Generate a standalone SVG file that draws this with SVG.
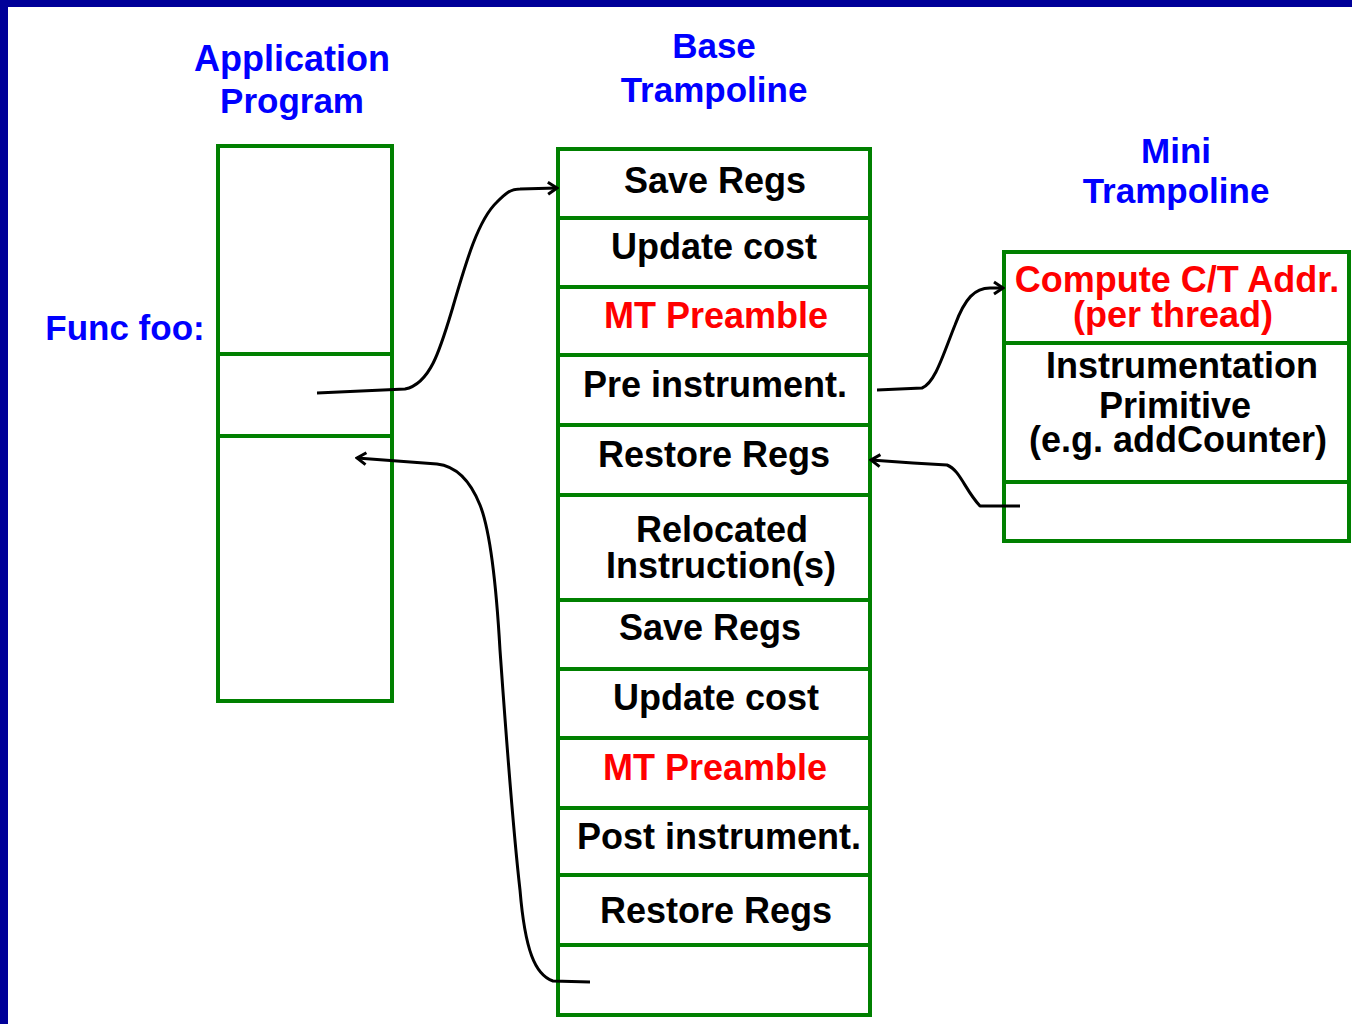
<svg xmlns="http://www.w3.org/2000/svg" width="1352" height="1024" viewBox="0 0 1352 1024">
<defs>
<style>
.box{fill:#fff;stroke:#008000;stroke-width:4}
.div{stroke:#008000;stroke-width:4}
.t{font-family:"Liberation Sans",Arial,sans-serif;font-weight:bold;font-size:36px;text-anchor:middle}
.ttl{font-size:35px}
.blk{fill:#000}
.red{fill:#ff0000}
.blu{fill:#0000ff}
.con{fill:none;stroke:#000;stroke-width:3;stroke-linejoin:round}
</style>
<marker id="ah" markerWidth="16" markerHeight="16" refX="14" refY="8" orient="auto" markerUnits="userSpaceOnUse">
<path d="M5,2 L14,8 L5,14" fill="none" stroke="#000" stroke-width="3"/>
</marker>
</defs>
<rect x="0" y="0" width="1352" height="1024" fill="#fff"/>
<rect x="0" y="0" width="1352" height="7" fill="#000099"/>
<rect x="0" y="0" width="8" height="1024" fill="#000099"/>

<g id="titles">
<text class="t blu" x="292" y="71">Application</text>
<text class="t blu ttl" x="292" y="113">Program</text>
<text class="t blu ttl" x="714" y="58">Base</text>
<text class="t blu ttl" x="714" y="102">Trampoline</text>
<text class="t blu ttl" x="1176" y="163">Mini</text>
<text class="t blu ttl" x="1176" y="203">Trampoline</text>
<text class="t blu ttl" x="125" y="340">Func foo:</text>
</g>

<g id="app-program">
<rect class="box" x="218" y="146" width="174" height="555"/>
<line class="div" x1="218" y1="354" x2="392" y2="354"/>
<line class="div" x1="218" y1="436" x2="392" y2="436"/>
</g>

<g id="base-trampoline">
<rect class="box" x="558" y="149" width="312" height="866"/>
<line class="div" x1="558" y1="218" x2="870" y2="218"/>
<line class="div" x1="558" y1="287" x2="870" y2="287"/>
<line class="div" x1="558" y1="355" x2="870" y2="355"/>
<line class="div" x1="558" y1="425" x2="870" y2="425"/>
<line class="div" x1="558" y1="495" x2="870" y2="495"/>
<line class="div" x1="558" y1="600" x2="870" y2="600"/>
<line class="div" x1="558" y1="669" x2="870" y2="669"/>
<line class="div" x1="558" y1="738" x2="870" y2="738"/>
<line class="div" x1="558" y1="808" x2="870" y2="808"/>
<line class="div" x1="558" y1="875" x2="870" y2="875"/>
<line class="div" x1="558" y1="945" x2="870" y2="945"/>
<text class="t blk" x="715" y="193">Save Regs</text>
<text class="t blk" x="714" y="259">Update cost</text>
<text class="t red" x="716" y="328">MT Preamble</text>
<text class="t blk" x="715" y="397">Pre instrument.</text>
<text class="t blk" x="714" y="467">Restore Regs</text>
<text class="t blk" x="722" y="542">Relocated</text>
<text class="t blk" x="721" y="578">Instruction(s)</text>
<text class="t blk" x="710" y="640">Save Regs</text>
<text class="t blk" x="716" y="710">Update cost</text>
<text class="t red" x="715" y="780">MT Preamble</text>
<text class="t blk" x="719" y="849">Post instrument.</text>
<text class="t blk" x="716" y="923">Restore Regs</text>
</g>

<g id="mini-trampoline">
<rect class="box" x="1004" y="252" width="345" height="289"/>
<line class="div" x1="1004" y1="343" x2="1349" y2="343"/>
<line class="div" x1="1004" y1="482" x2="1349" y2="482"/>
<text class="t red" x="1177" y="292">Compute C/T Addr.</text>
<text class="t red" x="1173" y="327">(per thread)</text>
<text class="t blk" x="1182" y="378">Instrumentation</text>
<text class="t blk" x="1175" y="418">Primitive</text>
<text class="t blk" x="1178" y="452">(e.g. addCounter)</text>
</g>

<g id="connectors">
<path class="con" marker-end="url(#ah)" d="M317,393 L405,389 C430,384 440,350 452,310 C466,262 478,220 497,202 C505,194 510,189 520,189 L557,188"/>
<path class="con" marker-end="url(#ah)" d="M590,982 L553,981 C535,975 525,950 520,890 C512,820 505,720 500,650 C496,580 490,530 480,505 C470,480 455,466 437,464 L357,458"/>
<path class="con" marker-end="url(#ah)" d="M877,390 L922,388 C935,383 943,355 955,325 C965,298 975,288 990,288 L1003,288"/>
<path class="con" marker-end="url(#ah)" d="M1020,506 L980,506 C965,490 960,470 947,465 L913,463 L871,460"/>
</g>
</svg>
